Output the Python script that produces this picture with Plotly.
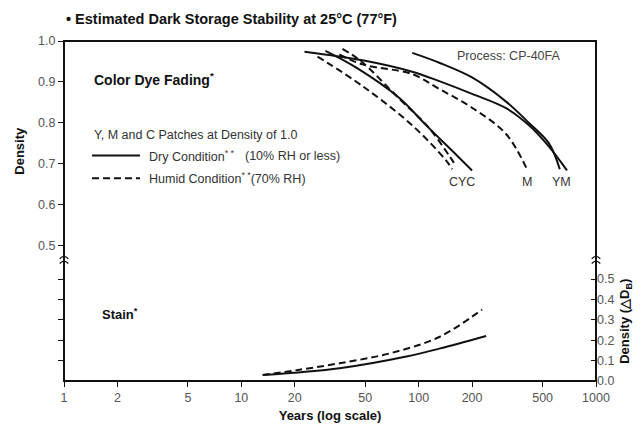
import math
import plotly.graph_objects as go

# ---- Color dye fading (density vs. years, log scale) ----
c_dry_years = [29.8, 44.5, 77.8, 110.4, 164.9, 200.0]
c_dry_dens = [0.976, 0.935, 0.861, 0.794, 0.720, 0.684]

c_hum_years = [26.9, 48.2, 92.0, 143.0, 154.6]
c_hum_dens = [0.962, 0.890, 0.794, 0.708, 0.687]

y_hum_years = [37.2, 47.5, 77.8, 114.8, 148.6, 162.8]
y_hum_dens = [0.981, 0.950, 0.859, 0.787, 0.720, 0.694]

m_hum_years = [35.7, 48.2, 92.0, 130.6, 200.0, 311.0, 408.0]
m_hum_dens = [0.967, 0.943, 0.919, 0.883, 0.837, 0.773, 0.687]

y_dry_years = [92.0, 130.6, 200.0, 311.0, 419.0, 543.0, 625.0]
y_dry_dens = [0.971, 0.947, 0.911, 0.852, 0.800, 0.750, 0.687]

m_dry_years = [22.7, 48.2, 92.0, 130.6, 200.0, 311.0, 419.0, 543.0, 686.0]
m_dry_dens = [0.974, 0.953, 0.925, 0.902, 0.871, 0.836, 0.794, 0.742, 0.684]

# ---- Stain (delta D_B vs. years) ----
stain_dry_years = [13.2, 35.8, 85.2, 130.6, 240.0]
stain_dry_vals = [0.029, 0.0625, 0.120, 0.159, 0.221]

stain_hum_years = [13.2, 20.5, 35.8, 68.3, 130.6, 228.0]
stain_hum_vals = [0.029, 0.053, 0.087, 0.135, 0.216, 0.351]

# ---- axis ticks ----
x_ticks = [1, 2, 5, 10, 20, 50, 100, 200, 500, 1000]
dens_ticks = [0.5, 0.6, 0.7, 0.8, 0.9, 1.0]
stain_ticks = [0.0, 0.1, 0.2, 0.3, 0.4, 0.5]

# curve end labels: (text, years, density)
end_labels = [("CYC", 176, 0.655), ("M", 410, 0.655), ("YM", 643, 0.655)]

FONT = "Liberation Sans, Arial, sans-serif"
INK = "#111111"
GREY = "#555555"
DASH = "7px,4px"

fig = go.Figure()

def fade_line(xs, ys, dashed):
    fig.add_trace(go.Scatter(
        x=xs, y=ys, mode="lines", xaxis="x", yaxis="y",
        line=dict(color=INK, width=2, shape="spline", smoothing=1.0,
                  dash=DASH if dashed else "solid"),
        showlegend=False, hoverinfo="skip"))

fade_line(c_dry_years, c_dry_dens, False)
fade_line(y_dry_years, y_dry_dens, False)
fade_line(m_dry_years, m_dry_dens, False)
fade_line(c_hum_years, c_hum_dens, True)
fade_line(y_hum_years, y_hum_dens, True)
fade_line(m_hum_years, m_hum_dens, True)

fig.add_trace(go.Scatter(
    x=stain_hum_years, y=stain_hum_vals, mode="lines", xaxis="x", yaxis="y2",
    line=dict(color=INK, width=2, shape="spline", dash=DASH),
    showlegend=False, hoverinfo="skip"))
fig.add_trace(go.Scatter(
    x=stain_dry_years, y=stain_dry_vals, mode="lines", xaxis="x", yaxis="y3",
    line=dict(color=INK, width=2, shape="spline"),
    showlegend=False, hoverinfo="skip"))

split = 0.3516
tickfont = dict(family=FONT, size=12.5, color=GREY)
titlefont = dict(family=FONT, size=13, color=INK, weight="bold")

fig.update_layout(
    width=644, height=432,
    margin=dict(l=64, r=48, t=41, b=44),
    paper_bgcolor="white", plot_bgcolor="white",
    xaxis=dict(type="log", range=[0, 3], anchor="y2",
               tickvals=x_ticks, ticktext=[str(v) for v in x_ticks],
               ticks="outside", ticklen=5, tickcolor=INK, tickwidth=1,
               showgrid=False, zeroline=False, showline=False,
               tickfont=tickfont,
               title=dict(text="Years (log scale)", font=titlefont, standoff=6)),
    yaxis=dict(domain=[split, 1], range=[0.4617, 1.0], anchor="x",
               tickvals=dens_ticks, ticktext=[f"{v:.1f}" for v in dens_ticks],
               ticks="outside", ticklen=5, tickcolor=INK, tickwidth=1,
               showgrid=False, zeroline=False, showline=False,
               tickfont=tickfont,
               title=dict(text="Density", font=titlefont, standoff=10)),
    yaxis2=dict(domain=[0, split], range=[0, 0.5865], anchor="x", side="right",
                tickvals=stain_ticks, ticktext=[f"{v:.1f}" for v in stain_ticks],
                ticks="inside", ticklen=5, tickcolor=INK, tickwidth=1,
                showgrid=False, zeroline=False, showline=False,
                tickfont=tickfont,
                title=dict(text="Density (△D<sub>B</sub>)", font=titlefont, standoff=6)),
    yaxis3=dict(overlaying="y2", range=[0, 0.5865], anchor="x", side="left",
                tickvals=stain_ticks[1:], showticklabels=False,
                ticks="outside", ticklen=5, tickcolor=INK, tickwidth=1,
                showgrid=False, zeroline=False, showline=False),
)

shapes = [
    # plot frame
    dict(type="rect", xref="paper", yref="paper", x0=0, x1=1, y0=0, y1=1,
         line=dict(color=INK, width=2), fillcolor="rgba(0,0,0,0)", layer="above"),
    # legend sample lines
    dict(type="line", xref="paper", yref="paper", x0=0.0526, x1=0.1429,
         y0=0.663, y1=0.663, line=dict(color=INK, width=2)),
    dict(type="line", xref="paper", yref="paper", x0=0.0526, x1=0.1429,
         y0=0.5965, y1=0.5965, line=dict(color=INK, width=2, dash=DASH)),
]
# axis break marks on both vertical axes
for xc in (0.0, 1.0):
    dx = 0.008
    for yc in (split + 0.008, split - 0.006):
        shapes.append(dict(
            type="path", xref="paper", yref="paper",
            path=f"M {xc-dx},{yc} Q {xc},{yc+0.014} {xc+dx},{yc}",
            line=dict(color=INK, width=1.3)))
fig.update_layout(shapes=shapes)

ann = []
def note(text, x, y, size=12.5, bold=False, color=INK, xanchor="left", xref="paper", yref="paper"):
    ann.append(dict(text=text, x=x, y=y, xref=xref, yref=yref,
                    xanchor=xanchor, yanchor="middle", showarrow=False,
                    font=dict(family=FONT, size=size, color=color,
                              weight="bold" if bold else "normal")))

note("• Estimated Dark Storage Stability at 25°C (77°F)", 0.0, 1.066, size=14.5, bold=True)
note("Color Dye Fading<sup>*</sup>", 0.0526, 0.8876, size=14, bold=True)
note("Y, M and C Patches at Density of 1.0", 0.0526, 0.7233, color="#333333")
note("Dry Condition<sup>* *</sup>", 0.156, 0.663, color="#333333")
note("(10% RH or less)", 0.3365, 0.663, color="#333333")
note("Humid Condition<sup>* *</sup>(70% RH)", 0.156, 0.5965, color="#333333")
note("Process: CP-40FA", 0.735, 0.957, color="#444444")
note("Stain<sup>*</sup>", 0.0677, 0.196, size=13, bold=True)
# annotations on a log axis take log10 positions
for txt, xv, yv in end_labels:
    note(txt, math.log10(xv), yv, color="#333333", xanchor="center", xref="x", yref="y")
fig.update_layout(annotations=ann)

fig.write_html("out.html")
